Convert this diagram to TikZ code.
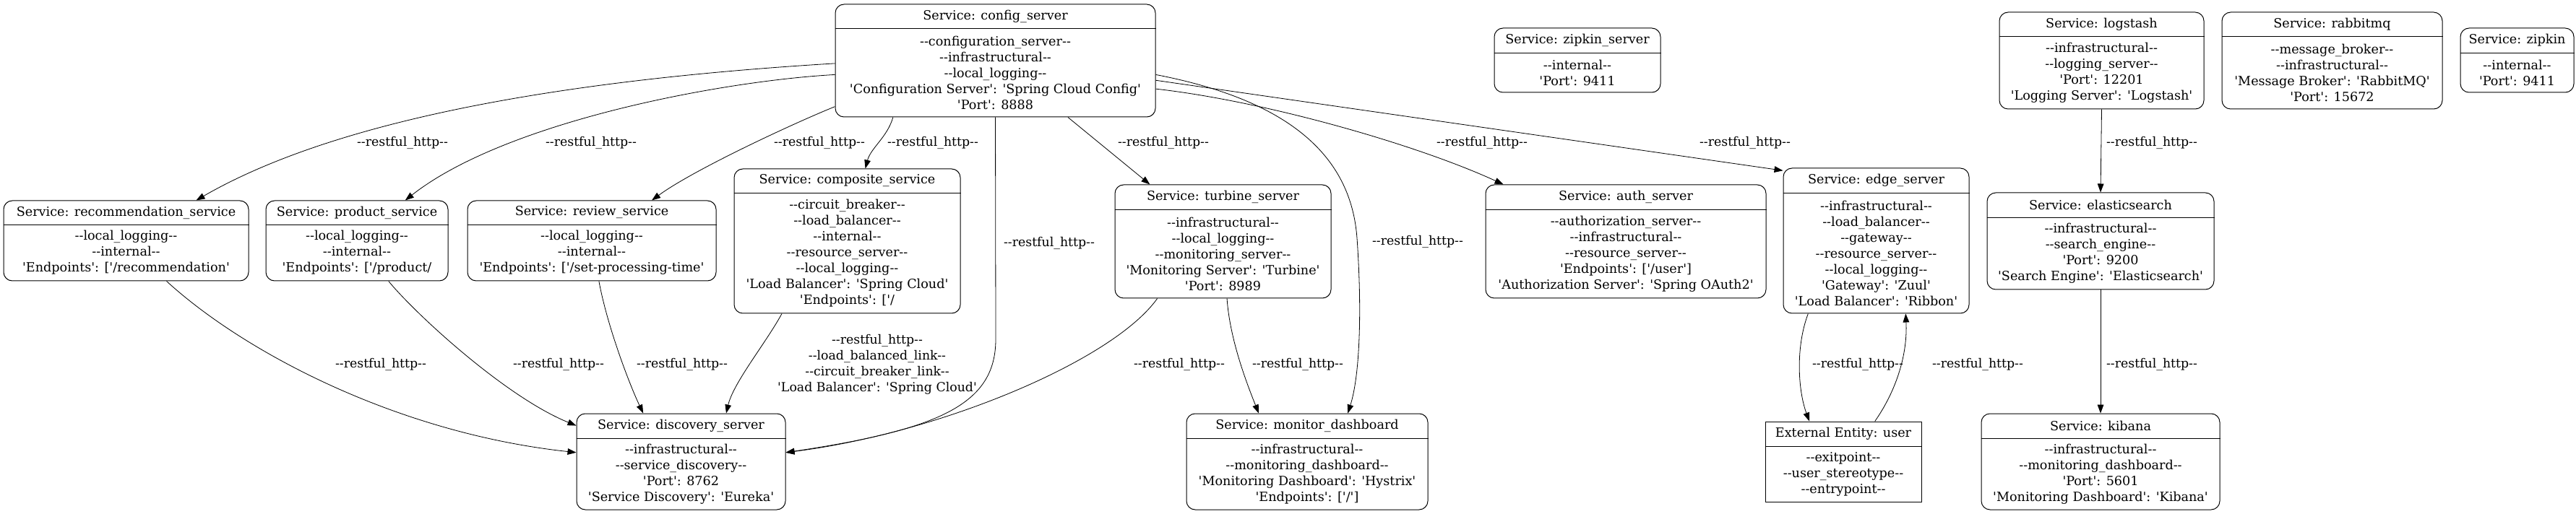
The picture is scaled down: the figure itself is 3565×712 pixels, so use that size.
\documentclass[tikz,border=0pt]{standalone}
\usepackage{fontspec}
\setmainfont{DejaVu Serif}[Ligatures=TeXOff]
\usetikzlibrary{arrows.meta,fit}

\begin{document}
\begin{tikzpicture}[x=0.75pt, y=-0.75pt,
    svc/.style={draw, rounded corners=9pt, inner sep=0pt, line width=0.75pt},
    ext/.style={draw, inner sep=0pt, line width=0.75pt},
    ttl/.style={inner sep=0pt, font=\fontsize{13.2}{16.5}\selectfont},
    attr/.style={inner sep=0pt, align=center, font=\fontsize{13.2}{16.5}\selectfont},
    rest/.style={-{Triangle[length=9pt, width=6.5pt]}, line width=0.6pt},
    lbl/.style={inner sep=0pt, align=center, font=\fontsize{13}{16.5}\selectfont}]
    \useasboundingbox (0,0) rectangle (3565,712);

    % Linha de cima
    \node[svc, fit={(1156,6) (1599,162)}] (config_server) {};
    \draw (config_server.west |- 0,39) -- (config_server.east |- 0,39);
    \node[ttl] (config_server_t) at (1377.5,22.5) {Service: config\_server};
    \node[attr] (config_server_b) at (1377.5,100.5) {--configuration\_server--\\--infrastructural--\\--local\_logging--\\'Configuration Server': 'Spring Cloud Config'\\'Port': 8888};

    \node[svc, fit={(2068,39) (2298,128)}] (zipkin_server) {};
    \draw (zipkin_server.west |- 0,73) -- (zipkin_server.east |- 0,73);
    \node[ttl] (zipkin_server_t) at (2183,56) {Service: zipkin\_server};
    \node[attr] (zipkin_server_b) at (2183,100.5) {--internal--\\'Port': 9411};

    \node[svc, fit={(2767,17) (3050,151)}] (logstash) {};
    \draw (logstash.west |- 0,50) -- (logstash.east |- 0,50);
    \node[ttl] (logstash_t) at (2908.5,33.5) {Service: logstash};
    \node[attr] (logstash_b) at (2908.5,100.5) {--infrastructural--\\--logging\_server--\\'Port': 12201\\'Logging Server': 'Logstash'};

    \node[svc, fit={(3075,17) (3380,151)}] (rabbitmq) {};
    \draw (rabbitmq.west |- 0,50) -- (rabbitmq.east |- 0,50);
    \node[ttl] (rabbitmq_t) at (3227.5,33.5) {Service: rabbitmq};
    \node[attr] (rabbitmq_b) at (3227.5,100.5) {--message\_broker--\\--infrastructural--\\'Message Broker': 'RabbitMQ'\\'Port': 15672};

    \node[svc, fit={(3405,39) (3562,128)}] (zipkin) {};
    \draw (zipkin.west |- 0,73) -- (zipkin.east |- 0,73);
    \node[ttl] (zipkin_t) at (3483.5,56) {Service: zipkin};
    \node[attr] (zipkin_b) at (3483.5,100.5) {--internal--\\'Port': 9411};

    % Linha do meio
    \node[svc, fit={(5,278) (344,389)}] (recommendation_service) {};
    \draw (recommendation_service.west |- 0,311) -- (recommendation_service.east |- 0,311);
    \node[ttl] (recommendation_service_t) at (174.5,294.5) {Service: recommendation\_service};
    \node[attr] (recommendation_service_b) at (174.5,350) {--local\_logging--\\--internal--\\'Endpoints': ['/recommendation'};

    \node[svc, fit={(368,278) (620,389)}] (product_service) {};
    \draw (product_service.west |- 0,311) -- (product_service.east |- 0,311);
    \node[ttl] (product_service_t) at (494,294.5) {Service: product\_service};
    \node[attr] (product_service_b) at (494,350) {--local\_logging--\\--internal--\\'Endpoints': ['/product/};

    \node[svc, fit={(647,278) (991,389)}] (review_service) {};
    \draw (review_service.west |- 0,311) -- (review_service.east |- 0,311);
    \node[ttl] (review_service_t) at (819,294.5) {Service: review\_service};
    \node[attr] (review_service_b) at (819,350) {--local\_logging--\\--internal--\\'Endpoints': ['/set-processing-time'};

    \node[svc, fit={(1016,234) (1329,434)}] (composite_service) {};
    \draw (composite_service.west |- 0,267) -- (composite_service.east |- 0,267);
    \node[ttl] (composite_service_t) at (1172.5,250.5) {Service: composite\_service};
    \node[attr] (composite_service_b) at (1172.5,350.5) {--circuit\_breaker--\\--load\_balancer--\\--internal--\\--resource\_server--\\--local\_logging--\\'Load Balancer': 'Spring Cloud'\\'Endpoints': ['/};

    \node[svc, fit={(1543,256) (1842,413)}] (turbine_server) {};
    \draw (turbine_server.west |- 0,290) -- (turbine_server.east |- 0,290);
    \node[ttl] (turbine_server_t) at (1692.5,273) {Service: turbine\_server};
    \node[attr] (turbine_server_b) at (1692.5,351.5) {--infrastructural--\\--local\_logging--\\--monitoring\_server--\\'Monitoring Server': 'Turbine'\\'Port': 8989};

    \node[svc, fit={(2056,256) (2444,413)}] (auth_server) {};
    \draw (auth_server.west |- 0,290) -- (auth_server.east |- 0,290);
    \node[ttl] (auth_server_t) at (2250,273) {Service: auth\_server};
    \node[attr] (auth_server_b) at (2250,351.5) {--authorization\_server--\\--infrastructural--\\--resource\_server--\\'Endpoints': ['/user']\\'Authorization Server': 'Spring OAuth2'};

    \node[svc, fit={(2468,233) (2725,434)}] (edge_server) {};
    \draw (edge_server.west |- 0,267) -- (edge_server.east |- 0,267);
    \node[ttl] (edge_server_t) at (2596.5,250) {Service: edge\_server};
    \node[attr] (edge_server_b) at (2596.5,350.5) {--infrastructural--\\--load\_balancer--\\--gateway--\\--resource\_server--\\--local\_logging--\\'Gateway': 'Zuul'\\'Load Balancer': 'Ribbon'};

    \node[svc, fit={(2750,267) (3064,401)}] (elasticsearch) {};
    \draw (elasticsearch.west |- 0,301) -- (elasticsearch.east |- 0,301);
    \node[ttl] (elasticsearch_t) at (2907,284) {Service: elasticsearch};
    \node[attr] (elasticsearch_b) at (2907,351) {--infrastructural--\\--search\_engine--\\'Port': 9200\\'Search Engine': 'Elasticsearch'};

    % Linha de baixo
    \node[svc, fit={(798,573) (1087,706)}] (discovery_server) {};
    \draw (discovery_server.west |- 0,607) -- (discovery_server.east |- 0,607);
    \node[ttl] (discovery_server_t) at (942.5,590) {Service: discovery\_server};
    \node[attr] (discovery_server_b) at (942.5,656.5) {--infrastructural--\\--service\_discovery--\\'Port': 8762\\'Service Discovery': 'Eureka'};

    \node[svc, fit={(1642,573) (1976,706)}] (monitor_dashboard) {};
    \draw (monitor_dashboard.west |- 0,607) -- (monitor_dashboard.east |- 0,607);
    \node[ttl] (monitor_dashboard_t) at (1809,590) {Service: monitor\_dashboard};
    \node[attr] (monitor_dashboard_b) at (1809,656.5) {--infrastructural--\\--monitoring\_dashboard--\\'Monitoring Dashboard': 'Hystrix'\\'Endpoints': ['/']};

    \node[ext, fit={(2443,584) (2659,695)}] (user) {};
    \draw (user.west |- 0,618) -- (user.east |- 0,618);
    \node[ttl] (user_t) at (2551,601) {External Entity: user};
    \node[attr] (user_b) at (2551,656.5) {--exitpoint--\\--user\_stereotype--\\--entrypoint--};

    \node[svc, fit={(2742,573) (3072,706)}] (kibana) {};
    \draw (kibana.west |- 0,607) -- (kibana.east |- 0,607);
    \node[ttl] (kibana_t) at (2907,590) {Service: kibana};
    \node[attr] (kibana_b) at (2907,656.5) {--infrastructural--\\--monitoring\_dashboard--\\'Port': 5601\\'Monitoring Dashboard': 'Kibana'};

    % Fluxos saindo do config_server
    \draw[rest] (config_server.181.5) .. controls (806,109) and (475,160) .. (recommendation_service.30.7);
    \draw[rest] (config_server.185.2) .. controls (1000,112) and (700,168) .. (product_service.40.1);
    \draw[rest] (config_server.196.6) .. controls (1100,170) and (960,235) .. (review_service.34.6);
    \draw[rest] (config_server.209.7) .. controls (1228,190) and (1205,205) .. (composite_service.76.8);
    \draw[rest] (config_server.south) -- (1378,470) .. controls (1378,560) and (1300,595) .. (discovery_server.5);
    \draw[rest] (config_server.322.2) -- (turbine_server.142);
    \draw[rest] (config_server.355.9) .. controls (1790,140) and (1870,220) .. (1878,330) .. controls (1885,430) and (1882,520) .. (monitor_dashboard.50.4);
    \draw[rest] (config_server.350.8) .. controls (1750,140) and (1960,200) .. (auth_server.155);
    \draw[rest] (config_server.353.3) -- (edge_server.143.3);

    % Fluxos ate o discovery_server e os outros
    \draw[rest] (recommendation_service.315) .. controls (338,488) and (550,600) .. (discovery_server.175.5);
    \draw[rest] (product_service.308.4) .. controls (575,435) and (700,550) .. (discovery_server.161.9);
    \draw[rest] (review_service.280.2) .. controls (840,450) and (870,530) .. (discovery_server.128.8);
    \draw[rest] (composite_service.228.8) .. controls (1060,475) and (1015,530) .. (discovery_server.47.2);
    \draw[rest] (turbine_server.221.9) .. controls (1540,500) and (1300,600) .. (discovery_server.5);
    \draw[rest] (turbine_server.274) .. controls (1702,470) and (1725,530) .. (monitor_dashboard.135.6);
    \draw[rest] (edge_server.227) .. controls (2485,480) and (2488,540) .. (user.130.9);
    \draw[rest] (user.52.2) .. controls (2625,540) and (2640,490) .. (edge_server.292.9);
    \draw[rest] (logstash.south) -- (elasticsearch.north);
    \draw[rest] (elasticsearch.south) -- (kibana.north);

    % Rotulos dos fluxos
    \node[lbl] (rest_cfg_rec) at (557,198) {--restful\_http--};
    \node[lbl] (rest_cfg_prod) at (818,198) {--restful\_http--};
    \node[lbl] (rest_cfg_rev) at (1134,198) {--restful\_http--};
    \node[lbl] (rest_cfg_comp) at (1291,198) {--restful\_http--};
    \node[lbl] (rest_cfg_turb) at (1610,198) {--restful\_http--};
    \node[lbl] (rest_cfg_auth) at (2051,198) {--restful\_http--};
    \node[lbl] (rest_cfg_edge) at (2415,198) {--restful\_http--};
    \node[lbl] (rest_log_es) at (2978,198) {--restful\_http--};
    \node[lbl] (rest_cfg_disc) at (1452,337) {--restful\_http--};
    \node[lbl] (rest_cfg_mon) at (1962,335) {--restful\_http--};
    \node[lbl] (rest_rec_disc) at (527,505) {--restful\_http--};
    \node[lbl] (rest_prod_disc) at (773,505) {--restful\_http--};
    \node[lbl] (rest_rev_disc) at (944,505) {--restful\_http--};
    \node[lbl] (rest_comp_disc) at (1214,505) {--restful\_http--\\--load\_balanced\_link--\\--circuit\_breaker\_link--\\'Load Balancer': 'Spring Cloud'};
    \node[lbl] (rest_turb_disc) at (1632,505) {--restful\_http--};
    \node[lbl] (rest_turb_mon) at (1796,505) {--restful\_http--};
    \node[lbl] (rest_edge_user) at (2571,505) {--restful\_http--};
    \node[lbl] (rest_user_edge) at (2737,505) {--restful\_http--};
    \node[lbl] (rest_es_kib) at (2978,505) {--restful\_http--};
\end{tikzpicture}
\end{document}
